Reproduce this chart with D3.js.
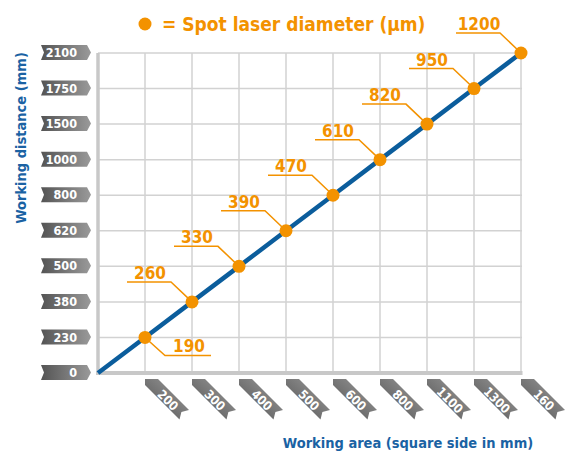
<!DOCTYPE html>
<html>
<head>
<meta charset="utf-8">
<script src="https://cdn.jsdelivr.net/npm/d3@7"></script>
<style>
  body { margin: 0; background: #fff; }
  text { font-family: "DejaVu Sans Condensed", "DejaVu Sans", sans-serif; font-weight: bold; }
</style>
</head>
<body>
<div id="chart"></div>
<script>
// Tick labels and values
var yLabels = ["0", "230", "380", "500", "620", "800", "1000", "1500", "1750", "2100"];
var xLabels = ["200", "300", "400", "500", "600", "800", "1100", "1300", "160"];
var spotDiameter = [190, 260, 330, 390, 470, 610, 820, 950, 1200];

var width = 568, height = 452;
var orange = "#f39200", blue = "#0b5d9c";

var svg = d3.select("#chart").append("svg")
    .attr("width", width)
    .attr("height", height);

// scales: x by position index (0 = origin), y by category
var x = d3.scaleLinear().domain([0, xLabels.length]).range([98, 521]);
var y = d3.scalePoint().domain(yLabels).range([373, 53]);

// gradients for the tag shapes
var defs = svg.append("defs");
var gy = defs.append("linearGradient").attr("id", "tagY")
    .attr("x1", "0").attr("y1", "0").attr("x2", "1").attr("y2", "0");
gy.append("stop").attr("offset", "0").attr("stop-color", "#545454");
gy.append("stop").attr("offset", "1").attr("stop-color", "#9a9a9a");
var gx = defs.append("linearGradient").attr("id", "tagX")
    .attr("x1", "1").attr("y1", "0").attr("x2", "0").attr("y2", "1");
gx.append("stop").attr("offset", "0").attr("stop-color", "#a0a0a0");
gx.append("stop").attr("offset", "1").attr("stop-color", "#4e4e4e");

// grid
var grid = svg.append("g");
grid.selectAll(".vgrid")
    .data(xLabels)
    .enter().append("line")
    .attr("x1", function(d, i) { return x(i + 1); })
    .attr("x2", function(d, i) { return x(i + 1); })
    .attr("y1", y("2100"))
    .attr("y2", y("0"))
    .attr("stroke", "#d2d2d2")
    .attr("stroke-width", 1.5);
grid.selectAll(".hgrid")
    .data(yLabels.slice(1))
    .enter().append("line")
    .attr("x1", x(0))
    .attr("x2", x(xLabels.length) + 1)
    .attr("y1", function(d) { return y(d); })
    .attr("y2", function(d) { return y(d); })
    .attr("stroke", "#d2d2d2")
    .attr("stroke-width", 1.5);

// axes (thick grey lines)
svg.append("line")
    .attr("x1", x(0)).attr("x2", x(0))
    .attr("y1", y("2100")).attr("y2", y("0") + 2)
    .attr("stroke", "#c8c8c8").attr("stroke-width", 3.5);
svg.append("line")
    .attr("x1", x(0) - 2).attr("x2", x(xLabels.length) + 1.5)
    .attr("y1", y("0")).attr("y2", y("0"))
    .attr("stroke", "#c8c8c8").attr("stroke-width", 4);

// y tick tags
var yTags = svg.selectAll(".ytag")
    .data(yLabels)
    .enter().append("g")
    .attr("transform", function(d) { return "translate(41," + (y(d) - 0.5) + ")"; });
yTags.append("polygon")
    .attr("points", "0,-7.5 46,-7.5 50,0 46,7.5 0,7.5 3,0")
    .attr("fill", "url(#tagY)");
yTags.append("text")
    .attr("x", 36)
    .attr("dy", "0.37em")
    .attr("text-anchor", "end")
    .attr("fill", "#fff")
    .style("font-size", "12.5px")
    .text(function(d) { return d; });

// x tick tags (rotated ribbons)
var xTags = svg.selectAll(".xtag")
    .data(xLabels)
    .enter().append("g")
    .attr("transform", function(d, i) { return "translate(" + x(i + 1) + ",379)"; });
xTags.append("polygon")
    .attr("points", "0,0 13,0 44,31 36.4,32.9 34.5,40.5 0,6")
    .attr("fill", "url(#tagX)");
xTags.append("text")
    .attr("transform", "translate(23,21) rotate(45)")
    .attr("dy", "0.37em")
    .attr("text-anchor", "middle")
    .attr("fill", "#fff")
    .style("font-size", "12.5px")
    .text(function(d) { return d; });

// the line from origin through all points
var pts = [{xi: 0, yl: "0"}].concat(spotDiameter.map(function(v, i) {
    return {xi: i + 1, yl: yLabels[i + 1], v: v};
}));
var line = d3.line()
    .x(function(d) { return x(d.xi); })
    .y(function(d) { return y(d.yl); });
svg.append("path")
    .datum(pts)
    .attr("d", line)
    .attr("fill", "none")
    .attr("stroke", blue)
    .attr("stroke-width", 4.5);

// callouts
var marks = pts.slice(1);
var callouts = svg.selectAll(".callout")
    .data(marks)
    .enter().append("g")
    .attr("transform", function(d) { return "translate(" + x(d.xi) + "," + y(d.yl) + ")"; });
callouts.append("polyline")
    .attr("points", function(d, i) {
        return i === 0 ? "0,0 20,18 66,18" : "0,0 -21,-20 -65,-20";
    })
    .attr("fill", "none")
    .attr("stroke", orange)
    .attr("stroke-width", 1.5);
callouts.append("text")
    .attr("x", function(d, i) { return i === 0 ? 44 : -42; })
    .attr("y", function(d, i) { return i === 0 ? 15 : -23; })
    .attr("text-anchor", "middle")
    .attr("fill", orange)
    .style("font-size", "17px")
    .text(function(d) { return d.v; });
callouts.append("circle")
    .attr("r", 6.5)
    .attr("fill", orange);

// legend
svg.append("circle")
    .attr("cx", 145).attr("cy", 24).attr("r", 6.5)
    .attr("fill", orange);
svg.append("text")
    .attr("x", 162).attr("y", 31)
    .attr("fill", orange)
    .style("font-size", "19px")
    .text("= Spot laser diameter (µm)");

// axis titles
svg.append("text")
    .attr("transform", "translate(26,138) rotate(-90)")
    .attr("text-anchor", "middle")
    .attr("fill", "#1a62a3")
    .style("font-size", "14.5px")
    .text("Working distance (mm)");
svg.append("text")
    .attr("x", 408).attr("y", 448)
    .attr("text-anchor", "middle")
    .attr("fill", "#1a62a3")
    .style("font-size", "14.5px")
    .text("Working area (square side in mm)");
</script>
</body>
</html>
